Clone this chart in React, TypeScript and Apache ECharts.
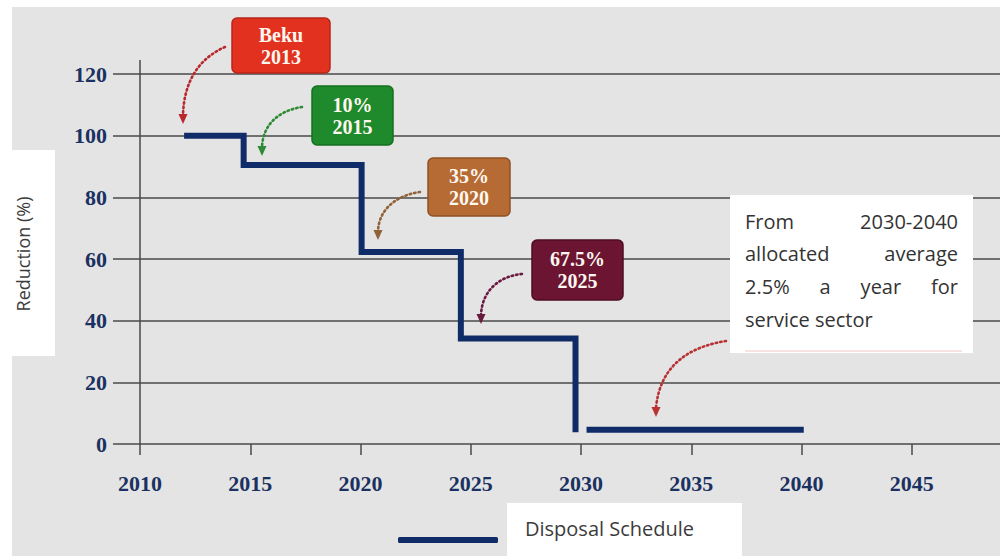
import React, { useEffect, useRef } from "react";
import * as echarts from "echarts";

// ---- data ----
const stepYears = [2012, 2014.7, 2014.7, 2020.05, 2020.05, 2024.55, 2024.55, 2029.75, 2029.75];
const stepValues = [100, 100, 90.5, 90.5, 62.3, 62.3, 34.2, 34.2, 3.8];
const tailYears = [2030.25, 2040.1];
const tailValues = [4.6, 4.6];
const yTicks = [0, 20, 40, 60, 80, 100, 120];
const xTicks = [2010, 2015, 2020, 2025, 2030, 2035, 2040, 2045];
const badgeTop = ["Beku", "10%", "35%", "67.5%"];
const badgeBottom = ["2013", "2015", "2020", "2025"];
const noteLines = [
  ["From", "2030-2040"],
  ["allocated", "average"],
  ["2.5%", "a", "year", "for"],
  ["service sector"],
];
const seriesName = "Disposal Schedule";
const yName = "Reduction (%)";

const NAVY = "#102c68";
const GRID = "#4a4a4a";
const LABEL = "#1b3161";
const NOTE_FONT = "20px 'Open Sans'";

export default function App() {
  const ref = useRef<HTMLDivElement>(null);
  useEffect(() => {
    const chart = echarts.init(ref.current!, undefined, { renderer: "svg" });
    const xMin = xTicks[0];
    const yMax = yTicks[yTicks.length - 1];
    chart.setOption({
      animation: false,
      backgroundColor: "#ffffff",
      grid: { left: 140, right: 0, top: 74, bottom: 112 },
      xAxis: {
        type: "value",
        min: xMin,
        max: 2049,
        interval: 5,
        axisLine: { show: false },
        axisTick: { show: true, length: 11, lineStyle: { color: GRID, width: 1.5 } },
        splitLine: { show: false },
        axisLabel: {
          showMaxLabel: false,
          margin: 28,
          fontFamily: "Liberation Serif",
          fontWeight: "bold",
          fontSize: 22,
          color: LABEL,
          formatter: (v: number) => (xTicks.indexOf(v) >= 0 ? String(v) : ""),
        },
      },
      yAxis: {
        type: "value",
        min: 0,
        max: yMax,
        interval: 20,
        name: yName,
        nameLocation: "middle",
        nameGap: 108,
        nameRotate: 90,
        nameTextStyle: { fontFamily: "Open Sans", fontSize: 18, color: "#3c3c3c", padding: [0, 0, 0, 10] },
        axisLine: { show: true, lineStyle: { color: GRID, width: 1.5 } },
        axisTick: { show: true, length: 27, lineStyle: { color: GRID, width: 1.5 } },
        splitLine: { show: true, lineStyle: { color: GRID, width: 1.5 } },
        axisLabel: {
          margin: 33,
          fontFamily: "Liberation Serif",
          fontWeight: "bold",
          fontSize: 22,
          color: LABEL,
          formatter: (v: number) => (yTicks.indexOf(v) >= 0 ? String(v) : ""),
        },
      },
      legend: {
        data: [seriesName],
        left: 398,
        top: 518,
        padding: 0,
        icon: "roundRect",
        itemWidth: 100,
        itemHeight: 6,
        itemGap: 0,
        formatter: "{a|{name}}",
        textStyle: {
          rich: {
            a: {
              fontFamily: "Open Sans",
              fontSize: 20,
              lineHeight: 22,
              color: "#3c3c3c",
              padding: [0, 0, 24, 22],
            },
          },
        },
        z: 60,
      },
      series: [
        {
          name: seriesName,
          type: "line",
          data: stepYears.map((x, i) => [x, stepValues[i]]),
          showSymbol: false,
          symbol: "none",
          color: NAVY,
          lineStyle: { color: NAVY, width: 6, join: "miter", cap: "butt" },
          z: 5,
        },
        {
          name: seriesName,
          type: "line",
          data: tailYears.map((x, i) => [x, tailValues[i]]),
          showSymbol: false,
          symbol: "none",
          color: NAVY,
          lineStyle: { color: NAVY, width: 6, cap: "butt" },
          z: 5,
        },
      ],
    });

    const top = chart.convertToPixel({ gridIndex: 0 }, [xMin, yMax]) as number[];

    const badge = (
      i: number,
      x: number,
      y: number,
      w: number,
      h: number,
      fill: string,
      stroke: string
    ) => ({
      type: "group",
      z: 50,
      children: [
        {
          type: "rect",
          shape: { x, y, width: w, height: h, r: 5 },
          style: { fill, stroke, lineWidth: 1.5 },
        },
        {
          type: "text",
          style: {
            x: x + w / 2,
            y: y + h / 2 - 11,
            text: badgeTop[i],
            fill: "#fff8f0",
            font: "bold 20px 'Liberation Serif'",
            align: "center",
            verticalAlign: "middle",
          },
        },
        {
          type: "text",
          style: {
            x: x + w / 2,
            y: y + h / 2 + 11,
            text: badgeBottom[i],
            fill: "#fff8f0",
            font: "bold 20px 'Liberation Serif'",
            align: "center",
            verticalAlign: "middle",
          },
        },
      ],
    });

    const arrow = (
      x1: number,
      y1: number,
      cx1: number,
      cy1: number,
      cx2: number,
      cy2: number,
      x2: number,
      y2: number,
      color: string
    ) => ({
      type: "group",
      z: 40,
      children: [
        {
          type: "bezierCurve",
          shape: { x1, y1, cpx1: cx1, cpy1: cy1, cpx2: cx2, cpy2: cy2, x2, y2 },
          style: { stroke: color, lineWidth: 2.6, lineDash: [1.5, 3], lineCap: "round", fill: null },
        },
        {
          type: "polygon",
          shape: { points: [[x2 - 4.5, y2 - 1], [x2 + 4.5, y2 - 1], [x2, y2 + 9]] },
          style: { fill: color },
        },
      ],
    });

    // justified note text
    const canvas = document.createElement("canvas");
    const ctx = canvas.getContext("2d")!;
    ctx.font = NOTE_FONT;
    const noteTexts: any[] = [];
    const noteLeft = 745;
    const noteRight = 958;
    noteLines.forEach((words, li) => {
      const y = 221 + li * 32.7;
      if (words.length === 1) {
        noteTexts.push({ x: noteLeft, y, text: words[0] });
      } else {
        const widths = words.map((w) => ctx.measureText(w).width);
        const total = widths.reduce((a, b) => a + b, 0);
        const gap = (noteRight - noteLeft - total) / (words.length - 1);
        let x = noteLeft;
        words.forEach((w, wi) => {
          noteTexts.push({ x, y, text: w });
          x += widths[wi] + gap;
        });
      }
    });
    const noteEls = noteTexts.map((t) => ({
      type: "text",
      style: {
        x: t.x,
        y: t.y,
        text: t.text,
        align: "left",
        verticalAlign: "middle",
        fill: "#333333",
        font: NOTE_FONT,
      },
    }));

    chart.setOption({
      graphic: [
        {
          type: "rect",
          z: -10,
          silent: true,
          shape: { x: 12, y: 7, width: 988, height: 549 },
          style: { fill: "#e4e4e4" },
        },
        {
          type: "rect",
          z: -9,
          silent: true,
          shape: { x: 0, y: 150, width: 55, height: 206 },
          style: { fill: "#ffffff" },
        },
        {
          type: "line",
          z: 1,
          shape: { x1: top[0], y1: top[1] - 14, x2: top[0], y2: top[1] },
          style: { stroke: GRID, lineWidth: 1.5 },
        },
        badge(0, 232, 18, 98, 55, "#e2321f", "#b8261a"),
        badge(1, 312, 86, 81, 59, "#1f8a2c", "#16701f"),
        badge(2, 428, 158, 82, 58, "#b56b33", "#8f5225"),
        badge(3, 532, 240, 91, 60, "#6c1532", "#4e0d22"),
        arrow(225, 47, 200, 58, 184, 80, 183, 115, "#b8282c"),
        arrow(302, 107, 282, 110, 263, 122, 262, 147, "#2f8a35"),
        arrow(420, 192, 398, 195, 379, 208, 378, 231, "#8f6238"),
        arrow(522, 274, 500, 276, 482, 290, 481, 315, "#6a1c40"),
        arrow(726, 341, 694, 346, 660, 362, 656, 408, "#b83234"),
        {
          type: "group",
          z: 50,
          children: [
            {
              type: "rect",
              shape: { x: 730, y: 195, width: 243, height: 158 },
              style: { fill: "#ffffff" },
            },
            {
              type: "line",
              shape: { x1: 745, y1: 351, x2: 962, y2: 351 },
              style: { stroke: "#f2c4c4", lineWidth: 1 },
            },
            ...noteEls,
          ],
        },
        {
          type: "rect",
          z: 45,
          shape: { x: 507, y: 503, width: 235, height: 53 },
          style: { fill: "#ffffff" },
        },
      ],
    });
    return () => chart.dispose();
  }, []);
  return (
    <div
      ref={ref}
      style={{ position: "absolute", left: 0, top: 0, width: 1000, height: 556 }}
    />
  );
}
